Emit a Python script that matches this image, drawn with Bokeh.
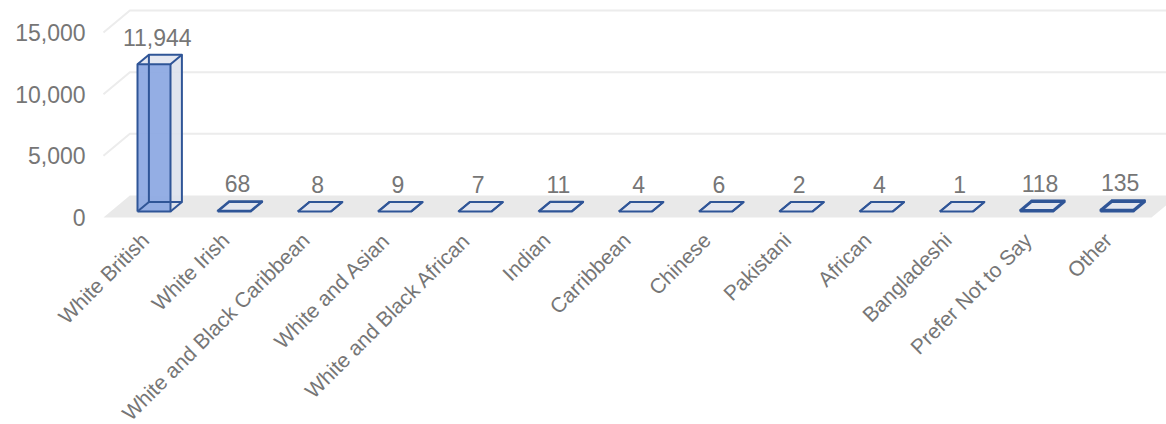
import math
from bokeh.plotting import figure
from bokeh.models import Range1d, ColumnDataSource
from bokeh.core.properties import value
from bokeh.embed import file_html
from bokeh.resources import INLINE

# ---- data -------------------------------------------------------------
categories = ["White British", "White Irish", "White and Black Caribbean",
              "White and Asian", "White and Black African", "Indian",
              "Carribbean", "Chinese", "Pakistani", "African", "Bangladeshi",
              "Prefer Not to Say", "Other"]
counts = [11944, 68, 8, 9, 7, 11, 4, 6, 2, 4, 1, 118, 135]
y_ticks = [0, 5000, 10000, 15000]
y_tick_labels = ["0", "5,000", "10,000", "15,000"]

# ---- layout / projection -----------------------------------------------
W, H = 1166, 424
PX_X = 80.25            # pixels per category slot
PX_Y = 185 / 15000      # pixels per count
X_START = -153.5 / PX_X
Y_START = -(H - 211) / PX_Y

FLOOR_FRONT, BAR_FRONT, BAR_BACK, WALL = -6, 0, 9.5, 16   # depth planes (px)
HALF_W = 16.5 / PX_X
X_LEFT, X_RIGHT = -0.54, 12.52

FONT = value("Liberation Sans")
TEXT_COLOR = "#767676"
EDGE = "#2f5597"


def proj(x, y, d):
    """Map a point (category x, count y, depth d in px) to plot coordinates."""
    return x + 1.2 * d / PX_X, y + d / PX_Y


p = figure(width=W, height=H, x_range=Range1d(X_START, X_START + W / PX_X),
           y_range=Range1d(Y_START, Y_START + H / PX_Y),
           x_axis_type=None, y_axis_type=None, toolbar_location=None,
           output_backend="svg", min_border=0)
p.grid.visible = False
p.outline_line_color = None
p.background_fill_color = "white"
p.border_fill_color = "white"

# floor
corners = [proj(X_LEFT, 0, FLOOR_FRONT), proj(X_RIGHT, 0, FLOOR_FRONT),
           proj(X_RIGHT, 0, WALL), proj(X_LEFT, 0, WALL)]
p.patch([c[0] for c in corners], [c[1] for c in corners],
        fill_color="#e9e9e9", line_color=None)

# gridlines on the back wall and the (hidden) left wall
gx, gy = [], []
for t in y_ticks[1:]:
    a = proj(X_LEFT, t, FLOOR_FRONT)
    b = proj(X_LEFT, t, WALL)
    c = proj(X_RIGHT, t, WALL)
    gx.append([a[0], b[0], c[0]])
    gy.append([a[1], b[1], c[1]])
p.multi_line(gx, gy, line_color="#ececec", line_width=2)

# bars as transparent boxes
front_x, front_y, side_x, side_y, top_x, top_y = [], [], [], [], [], []
edge_x, edge_y = [], []
for i, v in enumerate(counts):
    xl, xr = i - HALF_W, i + HALF_W
    f = [proj(xl, 0, BAR_FRONT), proj(xr, 0, BAR_FRONT),
         proj(xr, v, BAR_FRONT), proj(xl, v, BAR_FRONT)]
    b = [proj(xl, 0, BAR_BACK), proj(xr, 0, BAR_BACK),
         proj(xr, v, BAR_BACK), proj(xl, v, BAR_BACK)]
    front_x.append([q[0] for q in f]); front_y.append([q[1] for q in f])
    s = [f[1], b[1], b[2], f[2]]
    side_x.append([q[0] for q in s]); side_y.append([q[1] for q in s])
    tp = [f[3], f[2], b[2], b[3]]
    top_x.append([q[0] for q in tp]); top_y.append([q[1] for q in tp])
    for ring in (f, b):
        edge_x.append([q[0] for q in ring] + [ring[0][0]])
        edge_y.append([q[1] for q in ring] + [ring[0][1]])
    for k in range(4):
        edge_x.append([f[k][0], b[k][0]])
        edge_y.append([f[k][1], b[k][1]])

p.patches(side_x, side_y, fill_color="#dde2ec", fill_alpha=0.9, line_color=None)
p.patches(top_x, top_y, fill_color="#e2e6ef", fill_alpha=0.9, line_color=None)
p.patches(front_x, front_y, fill_color="#8eaae3", fill_alpha=0.95, line_color=None)
p.multi_line(edge_x, edge_y, line_color=EDGE, line_width=2, line_join="round")

# value labels
lab = ColumnDataSource(dict(
    x=[i + 0.04 for i in range(len(counts))],
    y=[v + 27 / PX_Y for v in counts],
    t=[f"{v:,}" for v in counts]))
p.text(x="x", y="y", text="t", source=lab, text_font=FONT,
       text_font_size="23px", text_color=TEXT_COLOR,
       text_align="center", text_baseline="alphabetic")

# category labels
cat = ColumnDataSource(dict(
    x=[i - 0.11 for i in range(len(categories))],
    y=[-25 / PX_Y] * len(categories),
    t=categories))
p.text(x="x", y="y", text="t", source=cat, text_font=FONT,
       text_font_size="21px", text_color=TEXT_COLOR, angle=math.pi / 4,
       text_align="right", text_baseline="middle")

# count axis labels
ypos = [proj(X_LEFT, t, FLOOR_FRONT) for t in y_ticks]
ax = ColumnDataSource(dict(
    x=[(85 - 153.5) / PX_X] * len(y_ticks),
    y=[q[1] for q in ypos],
    t=y_tick_labels))
p.text(x="x", y="y", text="t", source=ax, text_font=FONT,
       text_font_size="23px", text_color=TEXT_COLOR,
       text_align="right", text_baseline="middle")

open("out.html", "w").write(file_html(p, INLINE))
